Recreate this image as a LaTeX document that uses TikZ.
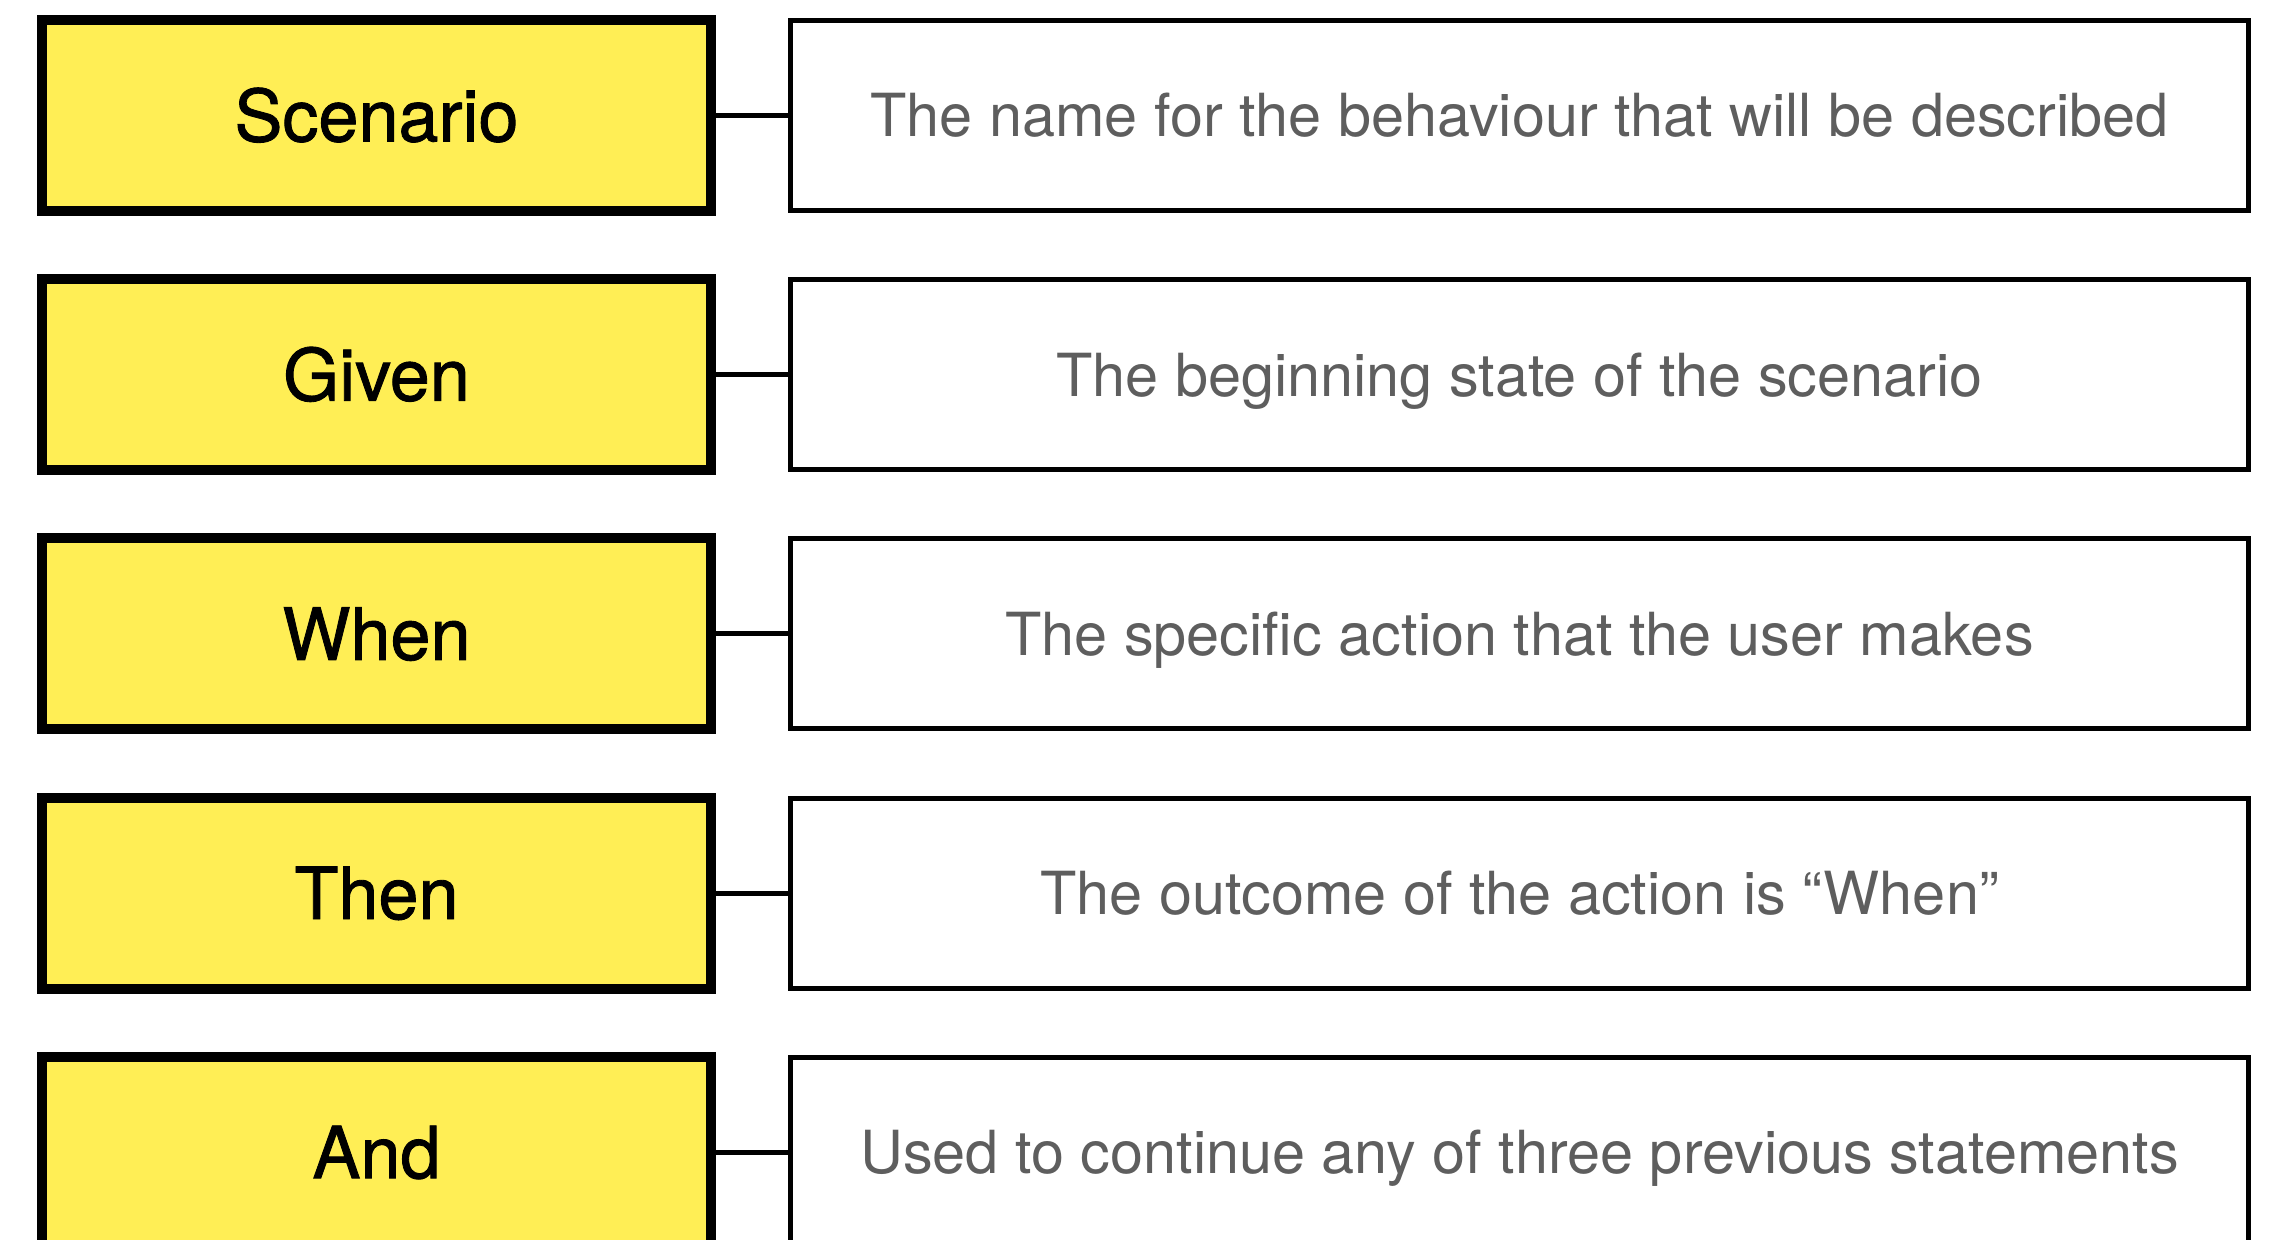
\documentclass[tikz,border=0pt]{standalone}
\usepackage{fontspec}
\setmainfont{TeX Gyre Heros}
\newfontfamily\keyfont[FakeBold=1.2]{TeX Gyre Heros}
\definecolor{keyyellow}{HTML}{FFEE55}
\definecolor{descgray}{HTML}{5E5E5E}
\begin{document}
\begin{tikzpicture}[x=0.5pt,y=-0.5pt,
  keybox/.style={draw=black, line width=5pt, fill=keyyellow, rectangle,
    minimum width=334.5pt, minimum height=95.5pt, inner sep=0pt,
    text height=25.9pt, text depth=0pt,
    font=\keyfont\fontsize{36pt}{40pt}\selectfont},
  descbox/.style={draw=black, line width=2.5pt, fill=white, rectangle,
    minimum width=729pt, minimum height=95pt, inner sep=0pt,
    text height=21.4pt, text depth=0pt,
    text=descgray, font=\fontsize{29.7pt}{34pt}\selectfont},
  link/.style={draw=black, line width=2.5pt}]
\useasboundingbox (0,0) rectangle (2269,1239);
\foreach \name/\key/\desc [count=\i from 0] in {
  scen/Scenario/The name for the behaviour that will be described,
  given/Given/The beginning state of the scenario,
  when/When/The specific action that the user makes,
  then/Then/The outcome of the action is “When”,
  and/And/Used to continue any of three previous statements} {
  \node[keybox]  (\name-k) at (376.5, 115.5+259.2*\i) {\key};
  \node[descbox] (\name-d) at (1519.5, 115.5+259.2*\i) {\desc};
  \draw[link] (\name-k.east) -- (\name-d.west);
}
\end{tikzpicture}
\end{document}
